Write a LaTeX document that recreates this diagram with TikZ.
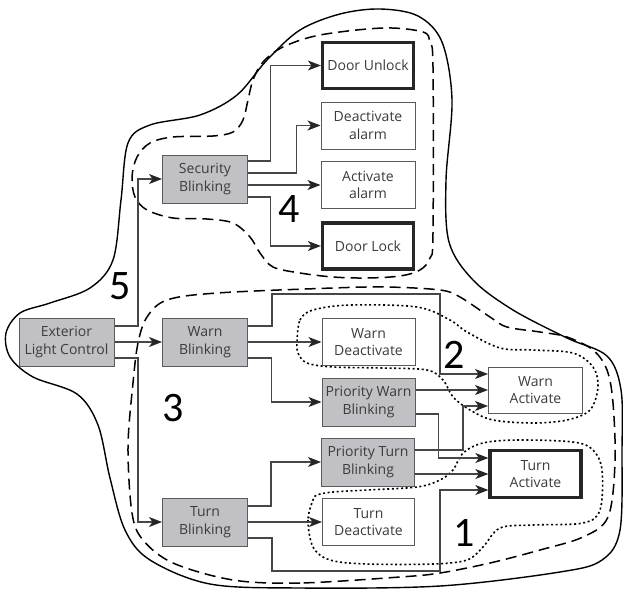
\documentclass[tikz,border=0pt]{standalone}
\usepackage{fontspec}
\setmainfont{Open Sans}
\newfontfamily\numfont{Carlito}
\usetikzlibrary{arrows.meta}
\definecolor{boxfill}{RGB}{193,193,197}
\definecolor{boxline}{RGB}{90,90,90}
\definecolor{wiregray}{RGB}{70,70,70}
\definecolor{txtgray}{RGB}{60,60,60}
\tikzset{
 blk/.style={draw=boxline,fill=boxfill,line width=1pt,minimum width=85pt,minimum height=48pt,inner sep=1pt,align=center,text=txtgray,font=\fontsize{14}{17.5}\selectfont},
 dev/.style={blk,fill=white,minimum width=94pt,minimum height=47pt},
 devthick/.style={dev,draw=black!85,line width=3.2pt,minimum width=91pt,minimum height=46pt},
 wire/.style={draw=wiregray,line width=1.1pt,-{Stealth[length=13pt,width=10pt,inset=3.5pt,color=black!85]}},
 num/.style={font=\numfont\fontsize{42}{42}\selectfont,inner sep=0pt},
 grp/.style={line width=1.4pt},
 grpdash/.style={line width=1.5pt,dash pattern=on 11pt off 6pt},
 grpdot/.style={line width=1.6pt,dash pattern=on 2pt off 2.6pt},
}
\begin{document}
\begin{tikzpicture}[x=1pt,y=-1pt]
\useasboundingbox (0,0) rectangle (623,589);
\draw[grp] plot[smooth cycle,tension=0.55] coordinates {(128,143) (150,125) (200,115) (237,95) (267,60) (300,30) (340,14) (380,9) (418,16) (442,42) (452,100) (446,180) (449,242) (473,280) (513,310) (567,338) (607,356) (621,390) (622,450) (620,530) (602,560) (560,572) (440,586) (300,588) (210,584) (150,560) (125,530) (110,478) (98,425) (77,394) (33,377) (10,357) (6,333) (20,313) (50,303) (90,288) (113,260) (121,200)};
\draw[grpdash] plot[smooth cycle,tension=0.55] coordinates {(423,32) (383,28) (320,35) (283,47) (263,62) (253,80) (248,100) (243,120) (233,132) (213,136) (173,137) (150,143) (137,157) (132,177) (135,197) (147,210) (173,218) (207,219) (233,223) (250,237) (260,253) (273,267) (300,273) (333,277) (367,278) (400,276) (420,270) (430,258) (433,233) (433,67) (430,43)};
\draw[grpdash] plot[smooth cycle,tension=0.55] coordinates {(400,577) (300,583) (233,580) (173,563) (143,540) (132,513) (128,447) (133,383) (138,343) (147,317) (167,300) (217,293) (333,288) (387,287) (440,290) (460,297) (490,317) (507,327) (540,332) (567,337) (593,350) (607,370) (613,403) (615,463) (608,517) (583,537) (540,550) (490,563) (440,573)};
\draw[grpdot] plot[smooth cycle,tension=0.55] coordinates {(297,342) (300,320) (313,310) (350,305) (417,307) (450,320) (467,332) (500,348) (533,350) (573,353) (593,367) (598,387) (590,410) (567,420) (533,423) (493,420) (470,410) (453,397) (443,380) (427,370) (383,368) (333,367) (307,363) (298,353)};
\draw[grpdot] plot[smooth cycle,tension=0.55] coordinates {(313,500) (308,520) (313,547) (330,560) (367,564) (433,564) (467,560) (483,547) (500,528) (533,525) (583,523) (600,510) (602,470) (593,450) (573,442) (517,440) (483,443) (463,453) (453,470) (440,480) (417,487) (367,490) (333,492) (317,495)};
\node[blk,minimum width=95pt] (elc) at (66.5,342) {Exterior\\Light Control};
\node[blk] (sec) at (205,179) {Security\\Blinking};
\node[blk] (warnb) at (205,342) {Warn\\Blinking};
\node[blk] (turnb) at (205,522) {Turn\\Blinking};
\node[devthick] (unlock) at (368,65.5) {Door Unlock};
\node[dev] (deact) at (368,125.5) {Deactivate\\alarm};
\node[dev] (act) at (368,185) {Activate\\alarm};
\node[devthick] (lock) at (368,246) {Door Lock};
\node[dev,minimum width=93pt] (wdeact) at (368.5,342) {Warn\\Deactivate};
\node[blk,minimum width=93pt] (pwarn) at (368.5,402) {Priority Warn\\Blinking};
\node[blk,minimum width=93pt] (pturn) at (368,462) {Priority Turn\\Blinking};
\node[dev,minimum width=92pt] (tdeact) at (368.5,522) {Turn\\Deactivate};
\node[dev,minimum height=46pt] (wact) at (535.5,390) {Warn\\Activate};
\node[devthick,minimum height=47pt] (tact) at (535.5,474) {Turn\\Activate};
\coordinate (wbus) at (440,294);
\coordinate (tbus) at (440,571);
\draw[wire] ([yshift=16pt]elc.east) -| ([xshift=-24pt]sec.west) -- (sec.west);
\draw[wire] (elc.east) -- (warnb.west);
\draw[wire] ([yshift=-16pt]elc.east) -| ([xshift=-24pt]turnb.west) -- (turnb.west);
\draw[wire] ([yshift=18pt]sec.east) -| ([xshift=-50pt]unlock.west) -- (unlock.west);
\draw[wire] ([yshift=6pt]sec.east) -| ([xshift=-24pt]deact.west) -- (deact.west);
\draw[wire] ([yshift=-6pt]sec.east) -- (act.west);
\draw[wire] ([yshift=-18pt]sec.east) -| ([xshift=-50pt]lock.west) -- (lock.west);
\draw[wire] ([yshift=16pt]warnb.east) -- ++(24,0) |- (wbus) |- ([yshift=16pt]wact.west);
\draw[wire] (warnb.east) -- (wdeact.west);
\draw[wire] ([yshift=-16pt]warnb.east) -| ([xshift=-50pt]pwarn.west) -- (pwarn.west);
\draw[wire] ([yshift=12pt]pwarn.east) -- (wact.west);
\draw[wire] ([yshift=-12pt]pwarn.east) -| ([xshift=-50pt,yshift=16pt]tact.west) -- ([yshift=16pt]tact.west);
\draw[wire] ([yshift=12pt]pturn.east) -| ([xshift=-25pt,yshift=-16pt]wact.west) -- ([yshift=-16pt]wact.west);
\draw[wire] ([yshift=-12pt]pturn.east) -- (tact.west);
\draw[wire] ([yshift=16pt]turnb.east) -| ([xshift=-50pt]pturn.west) -- (pturn.west);
\draw[wire] (turnb.east) -- (tdeact.west);
\draw[wire] ([yshift=-16pt]turnb.east) -- ++(24,0) |- (tbus) |- ([yshift=-16pt]tact.west);
\node[num] (n5) at (120,286) {5};
\node[num] (n4) at (289,209) {4};
\node[num] (n3) at (173,408) {3};
\node[num] (n2) at (454,355) {2};
\node[num] (n1) at (464,533) {1};
\end{tikzpicture}
\end{document}
